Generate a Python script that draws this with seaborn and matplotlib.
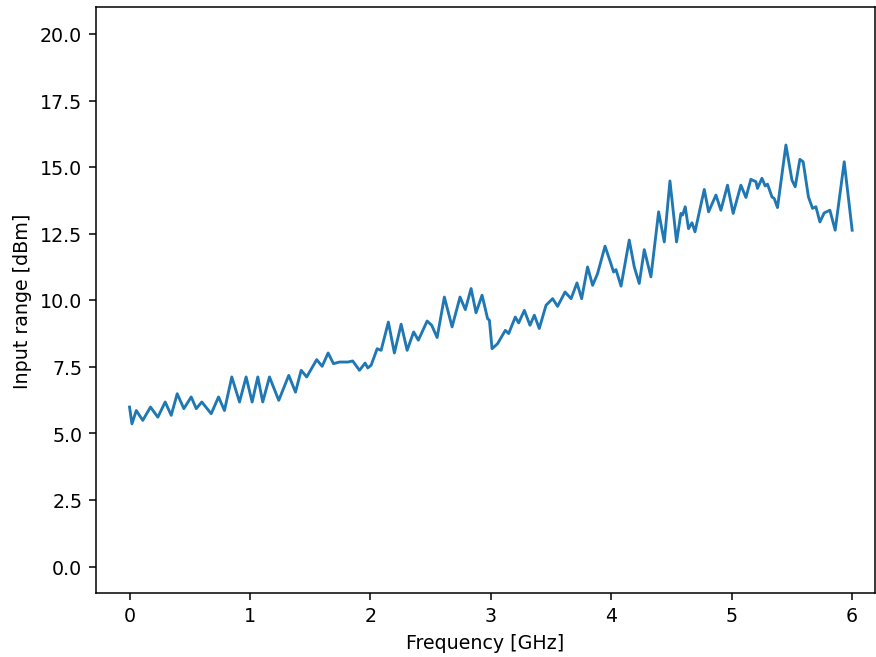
import numpy as np
import pandas as pd
import matplotlib
matplotlib.use("Agg")
import matplotlib.pyplot as plt
import seaborn as sns

# values (GHz, dBm)
freq_ghz = [
    0.00, 0.02, 0.056, 0.110, 0.174, 0.235, 0.296, 0.346, 0.396, 0.451,
    0.512, 0.554, 0.600, 0.678, 0.739, 0.788, 0.849, 0.913, 0.968, 1.018,
    1.065, 1.106, 1.162, 1.239, 1.322, 1.378, 1.425, 1.471, 1.554, 1.599,
    1.649, 1.693, 1.743, 1.812, 1.853, 1.909, 1.956, 1.978, 2.006, 2.056,
    2.089, 2.149, 2.199, 2.255, 2.305, 2.359, 2.398, 2.471, 2.509, 2.554,
    2.614, 2.678, 2.744, 2.788, 2.836, 2.877, 2.927, 2.973, 2.988, 3.010,
    3.056, 3.120, 3.148, 3.203, 3.231, 3.278, 3.325, 3.361, 3.402, 3.458,
    3.513, 3.554, 3.616, 3.666, 3.715, 3.754, 3.803, 3.845, 3.886, 3.948,
    3.992, 4.019, 4.039, 4.081, 4.149, 4.191, 4.232, 4.274, 4.329, 4.393,
    4.440, 4.487, 4.542, 4.578, 4.592, 4.614, 4.641, 4.670, 4.695, 4.772,
    4.808, 4.869, 4.910, 4.965, 5.012, 5.076, 5.118, 5.159, 5.201, 5.214,
    5.251, 5.278, 5.297, 5.334, 5.353, 5.380, 5.450, 5.500, 5.527, 5.566,
    5.593, 5.637, 5.671, 5.699, 5.732, 5.768, 5.815, 5.859, 5.934, 6.00,
]
input_range_dbm = [
    5.99, 5.36, 5.86, 5.49, 5.99, 5.61, 6.18, 5.68, 6.49, 5.93,
    6.37, 5.93, 6.18, 5.74, 6.37, 5.86, 7.12, 6.18, 7.12, 6.18,
    7.12, 6.18, 7.12, 6.24, 7.18, 6.55, 7.37, 7.12, 7.77, 7.52,
    8.02, 7.62, 7.68, 7.68, 7.72, 7.37, 7.64, 7.46, 7.56, 8.18,
    8.12, 9.18, 8.02, 9.10, 8.12, 8.81, 8.50, 9.22, 9.06, 8.60,
    10.12, 9.00, 10.12, 9.65, 10.44, 9.53, 10.19, 9.31, 9.25, 8.18,
    8.37, 8.87, 8.75, 9.37, 9.15, 9.62, 9.06, 9.44, 8.94, 9.81,
    10.06, 9.77, 10.31, 10.06, 10.65, 10.06, 11.25, 10.56, 11.00, 12.03,
    11.44, 11.06, 11.15, 10.53, 12.26, 11.25, 10.63, 11.90, 10.88, 13.32,
    12.19, 14.48, 12.19, 13.26, 13.20, 13.51, 12.69, 12.91, 12.57, 14.16,
    13.32, 13.95, 13.38, 14.32, 13.26, 14.32, 13.86, 14.54, 14.45, 14.20,
    14.58, 14.29, 14.36, 13.88, 13.82, 13.48, 15.83, 14.51, 14.26, 15.29,
    15.20, 13.88, 13.45, 13.51, 12.94, 13.28, 13.38, 12.63, 15.20, 12.63,
]
x_ticks = [0, 1, 2, 3, 4, 5, 6]
y_ticks = [0.0, 2.5, 5.0, 7.5, 10.0, 12.5, 15.0, 17.5, 20.0]

df = pd.DataFrame({"freq": freq_ghz, "range": input_range_dbm})

fig = plt.figure(figsize=(6.4, 4.8), dpi=137)
ax = fig.add_axes([0.109, 0.097, 0.889, 0.891])
sns.lineplot(data=df, x="freq", y="range", ax=ax, color="#1f77b4", linewidth=1.5)

ax.set_xlim(-0.282, 6.19)
ax.set_ylim(-1.0, 21.0)
ax.set_xticks(x_ticks)
ax.set_yticks(y_ticks)
ax.set_yticklabels([f"{v:.1f}" for v in y_ticks])
ax.set_xlabel("Frequency [GHz]")
ax.set_ylabel("Input range [dBm]")

fig.savefig("out.png", dpi=137)
